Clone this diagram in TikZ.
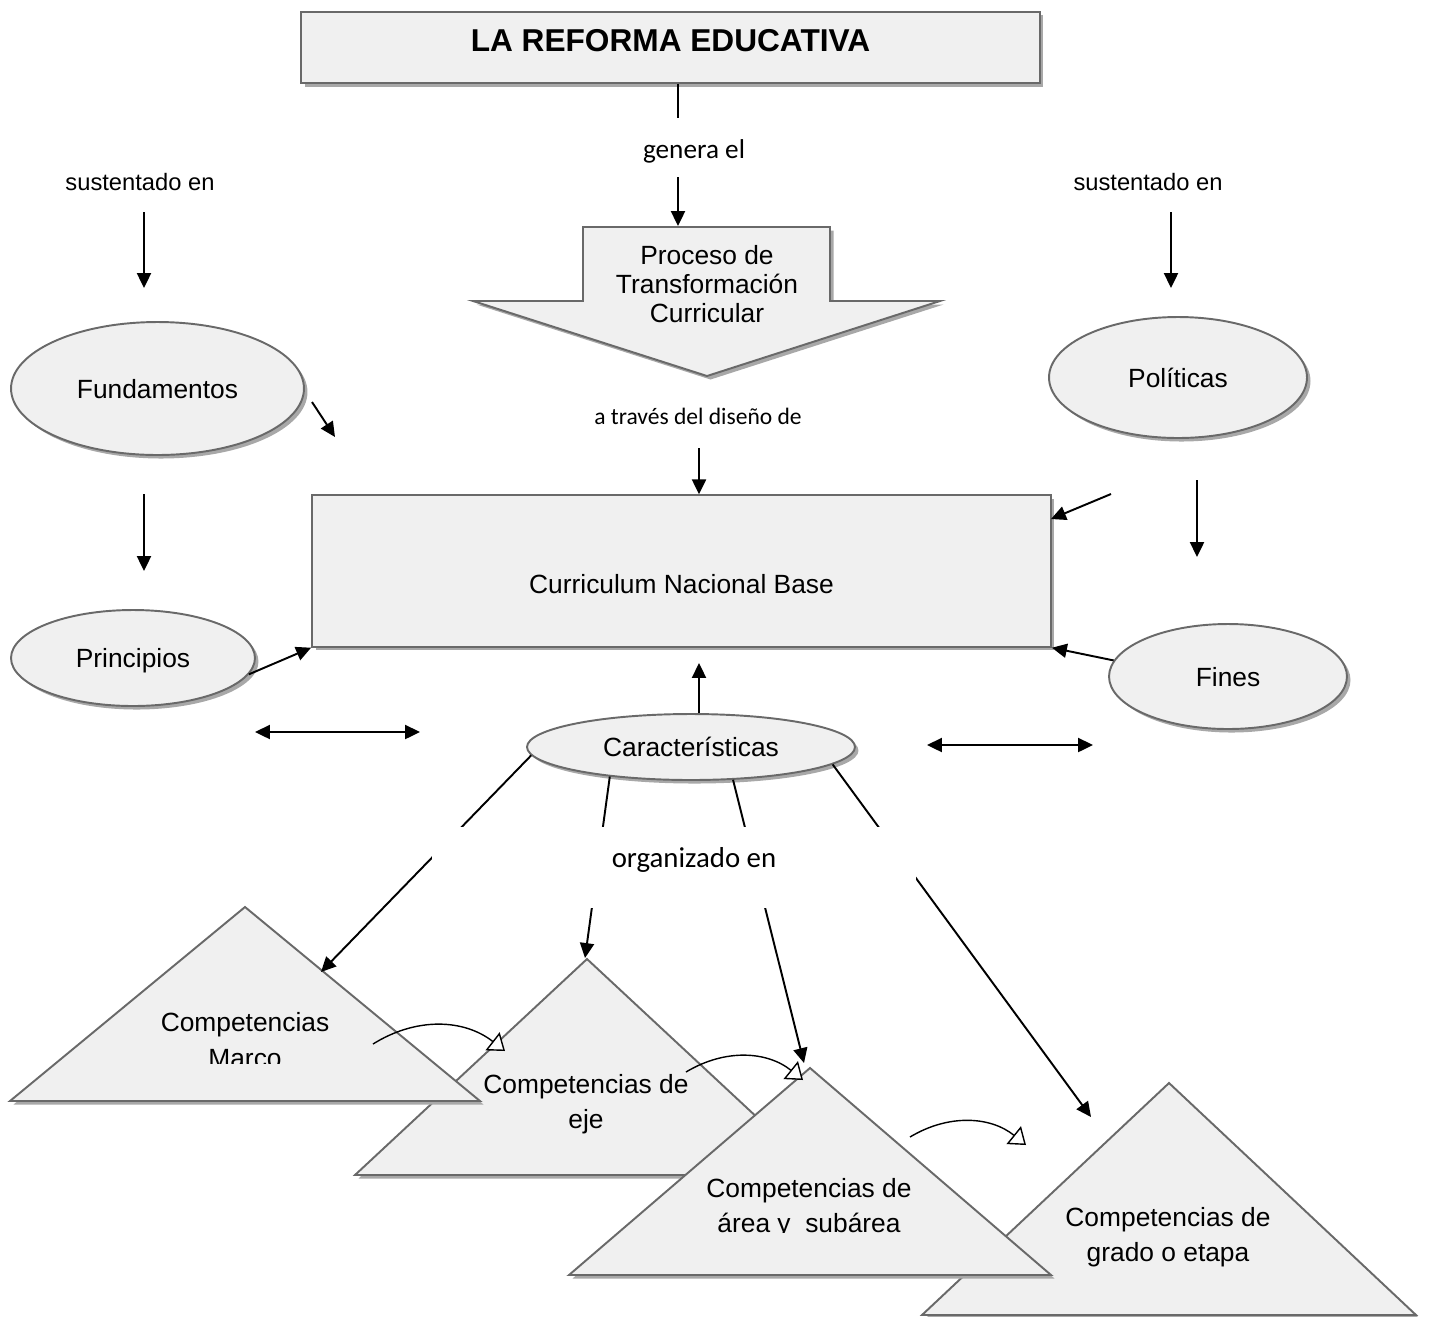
\documentclass[tikz,border=0pt]{standalone}
\usepackage{fontspec}
\setmainfont{Liberation Sans}
\newfontfamily\calfont{Carlito}
\usepackage{xcolor}
\usepackage{tikz}
\usetikzlibrary{arrows.meta,shapes.geometric,shadows}

\definecolor{boxfill}{RGB}{240,240,240}
\definecolor{boxline}{RGB}{105,105,105}
\definecolor{boxshade}{RGB}{168,168,168}

\tikzset{
	gbox/.style={draw=boxline, fill=boxfill, line width=1.1pt,
		drop shadow={shadow xshift=2pt, shadow yshift=-2pt, fill=boxshade, opacity=1}},
	oval/.style={gbox, ellipse, inner sep=0pt, text depth=0pt, font=\fontsize{15}{18}\selectfont},
	txt/.style={font=\fontsize{15}{20}\selectfont, align=center},
	conn/.style={font=\calfont\fontsize{#1}{#1}\selectfont, inner sep=0pt},
	sus/.style={font=\fontsize{13.5}{16}\selectfont, inner sep=0pt},
	arr/.style={line width=1.1pt, -{Triangle[length=8.5pt,width=8pt]}},
	darr/.style={line width=1.1pt, {Triangle[length=8.5pt,width=8pt]}-{Triangle[length=8.5pt,width=8pt]}},
	oarr/.style={line width=0.8pt, -{Triangle[open,fill=white,length=9pt,width=13pt]}},
	ln/.style={line width=1.1pt}
}

\begin{document}
\begin{tikzpicture}[x=0.02cm,y=-0.02cm]
	\useasboundingbox (0,0) rectangle (1429,1316);
	
	% top
	\node[gbox, minimum width=14.78cm, minimum height=1.43cm, text depth=0.28cm,
		font=\bfseries\fontsize{18}{21}\selectfont] (ref) at (670.5,47.5) {LA REFORMA EDUCATIVA};
	\node[conn=15.5] (gen) at (694,151) {genera el};
	\draw[gbox] (583,227) -- (830,227) -- (830,301) -- (940,301) -- (707,376)
		-- (473,301) -- (583,301) -- cycle;
	\node[txt, font=\fontsize{15}{16.5}\selectfont] (proc) at (707,284) {Proceso de\\Transformación\\Curricular};
	\node[conn=13.4] (dis) at (698,416) {a través del diseño de};
	
	% centre box
	\node[gbox, minimum width=14.78cm, minimum height=3.03cm, text height=0.88cm, text depth=0pt,
		font=\fontsize{15}{18}\selectfont] (cnb) at (681.5,571) {Curriculum Nacional Base};
	
	% ovals
	\foreach \n/\a/\b/\w/\h/\t in
	{fund/157.5/388.5/5.86/2.66/Fundamentos, poli/1178/377.5/5.16/2.42/Políticas,
	 princ/133/658/4.88/1.92/Principios, fines/1228/676.5/4.76/2.1/Fines,
	 car/691/747/6.56/1.32/Características}{
		\node[oval, minimum width=\w cm, minimum height=\h cm] (\n) at (\a,\b) {\t};
	}
	
	\node[sus] (susl) at (140,182) {sustentado en};
	\node[sus] (susr) at (1148,182) {sustentado en};
	
	% competencias, back to front
	\foreach \x/\y/\b/\w in {1169/1083/1315/247, 587/959/1175/232, 245/907/1101/235, 810/1068/1275/241}{
		\draw[gbox] (\x,\y) -- (\x+\w,\b) -- (\x-\w,\b) -- cycle;
	}
	\begin{scope}
		\clip (0,0) rectangle (1429,1063);
		\node[txt] (tmar) at (245,1040) {Competencias\\Marco};
	\end{scope}
	\node[txt] (teje) at (586,1104) {Competencias de\\eje};
	\begin{scope}
		\clip (0,0) rectangle (1429,1232);
		\node[txt] (tare) at (809,1208) {Competencias de\\área y~ subárea};
	\end{scope}
	\node[txt] (tgra) at (1168,1237) {Competencias de\\grado o etapa};
	
	% free ends
	\foreach \n/\a/\b in
	{g0/678/118, g1/678/177, g2/678/226, d0/699/448,
	 s1/144/212, s2/144/288, s3/1171/212, s4/1171/288,
	 f1/312/402, f2/335/437, f3/144/494, f4/144/571,
	 p1/1111/494, p2/1051/519, p3/1197/480, p4/1197/557,
	 c1/699/663, h1/255/732, h2/420/732, h3/927/745, h4/1093/745,
	 k1/321/972, k2/585/958, k3/804/1063, k4/1091/1117,
	 q1/373/1044, q2/505/1051, q3/686/1072, q4/803/1080, q5/910/1137, q6/1026/1145}{
		\coordinate (\n) at (\a,\b);
	}
	
	\draw[ln] (ref.south -| g0) -- (g0);
	\foreach \x/\y in {s1/s2, s3/s4, g1/g2, f1/f2, f3/f4, p1/p2, p3/p4}{
		\draw[arr] (\x)--(\y);
	}
	\draw[arr] (d0) -- (d0 |- cnb.north);
	\draw[arr] (princ.-8) -- (cnb.south west);
	\draw[arr] (fines.172) -- (cnb.south east);
	\draw[arr] (car.north -| c1) -- (c1);
	\foreach \x/\y in {h1/h2, h3/h4}{
		\draw[darr] (\x)--(\y);
	}
	
	% organizado en
	\foreach \x/\y in {183/k1, 200/k2, 322/k3, 353/k4}{
		\draw[arr] (car.\x)--(\y);
	}
	\fill[white] (432,827) rectangle (916,908);
	\node[conn=16.4] (org) at (694,860) {organizado en};
	
	\foreach \x/\y in {q1/q2, q3/q4, q5/q6}{
		\draw[oarr] (\x) to[bend left=35] (\y);
	}
\end{tikzpicture}
\end{document}
